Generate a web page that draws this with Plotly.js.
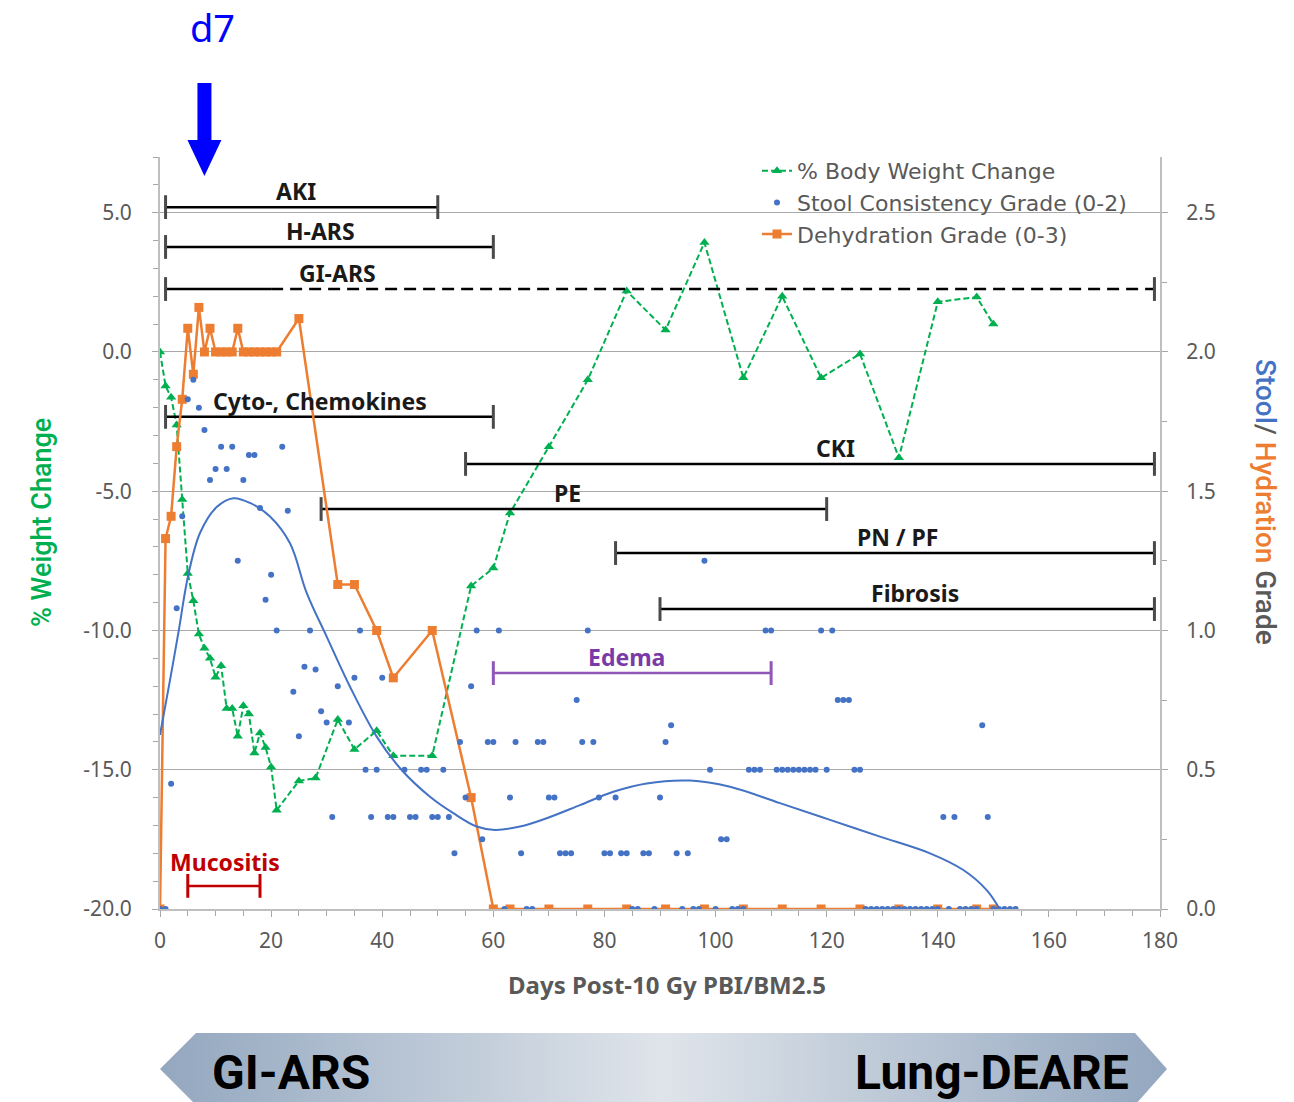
<!DOCTYPE html>
<html>
<head>
<meta charset="utf-8">
<script src="https://cdn.plot.ly/plotly-3.0.1.min.js"></script>
<style>
  html, body { margin: 0; padding: 0; background: #ffffff; }
  #chart { width: 1294px; height: 1102px; }
</style>
</head>
<body>
<div id="chart"></div>
<script>
// ---- % body weight change (left axis) ----
const weightDays = [0,1,2,3,4,5,6,7,8,9,10,11,12,13,14,15,16,17,18,19,20,21,25,28,32,35,39,42,49,56,60,63,70,77,84,91,98,105,112,119,126,133,140,147,150];
const weightChange = [0,-1.22,-1.63,-2.62,-5.3,-7.95,-8.93,-10.13,-10.64,-11.0,-11.68,-11.27,-12.8,-12.8,-13.8,-12.7,-13.0,-14.4,-13.68,-14.2,-14.9,-16.45,-15.4,-15.3,-13.2,-14.27,-13.6,-14.5,-14.5,-8.4,-7.76,-5.78,-3.4,-1.0,2.19,0.79,3.93,-0.93,2.0,-0.93,-0.07,-3.8,1.8,1.97,1.0];

// ---- stool consistency grade, group mean (right axis) ----
const stoolDays = [0,1,2,3,4,5,6,7,8,9,10,11,12,13,14,15,16,17,18,19,20,21,22,23,24,25,26,27,28,29,30,31,32,34,35,36,37,38,39,40,41,42,44,45,46,47,48,49,50,51,52,53,54,55,56,57,58,59,60,61,62,63,64,65,66,67,68,69,70,71,72,73,74,75,76,77,78,79,80,81,82,83,84,85,86,87,88,89,90,91,92,93,94,95,96,97,98,99,100,101,102,103,104,105,106,107,108,109,110,111,112,113,114,115,116,117,118,119,120,121,122,123,124,125,126,127,128,129,130,131,132,133,134,135,136,137,138,139,140,141,142,143,144,145,146,147,148,149,150,151,152,153,154];
const stoolGrade = [0,0,0.45,1.08,1.41,1.83,1.90,1.80,1.72,1.54,1.58,1.66,1.58,1.66,1.25,1.54,1.63,1.63,1.44,1.11,1.20,1.00,1.66,1.43,0.78,0.62,0.87,1.00,0.86,0.71,0.67,0.33,0.80,0.67,0.83,1.00,0.50,0.33,0.50,0.83,0.33,0.33,0.50,0.33,0.33,0.50,0.50,0.33,0.33,0.50,0.33,0.20,0.60,0.40,0.80,1.00,0.25,0.60,0.60,1.00,0,0.40,0.60,0.20,0,0,0.60,0.60,0.40,0.40,0.20,0.20,0.20,0.75,0.60,1.00,0.60,0.40,0.20,0.20,0.40,0.20,0.20,0,0,0.20,0.20,0,0.40,0.60,0.66,0.20,0,0.20,0,0,1.25,0.50,0,0.25,0.25,0,0,0,0.50,0.50,0.50,1.00,1.00,0.50,0.50,0.50,0.50,0.50,0.50,0.50,0.50,1.00,0.50,1.00,0.75,0.75,0.75,0.50,0.50,0,0,0,0,0,0,0,0,0,0,0,0,0,0,0.33,0,0.33,0,0,0,0,0.66,0.33,0,0,0,0,0];

// ---- polynomial trend of stool grade (right axis) ----
const stoolTrendDays = [0,1.8,3.3,5.1,7.2,10.2,13.2,16.2,19.8,23.4,26.4,30,34.2,39,43.5,48.6,52.8,57,60.3,64.8,69.6,75.6,81.6,87.6,95.4,102.6,111.6,120.6,129.6,138.6,144.6,148.8,150.9];
const stoolTrendGrade = [0.625,0.822,0.991,1.2,1.35,1.443,1.475,1.458,1.409,1.313,1.135,0.978,0.798,0.619,0.499,0.403,0.344,0.296,0.284,0.296,0.326,0.373,0.421,0.451,0.461,0.439,0.38,0.32,0.26,0.2,0.14,0.068,0.008];

// ---- dehydration grade, group mean (right axis) ----
const dehydDays = [0,1,2,3,4,5,6,7,8,9,10,11,12,13,14,15,16,17,18,19,20,21,25,32,35,39,42,49,56,60,63,70,77,84,91,98,105,112,119,126,133,140,147,150];
const dehydGrade = [0,1.33,1.41,1.66,1.83,2.085,1.92,2.16,2.0,2.085,2.0,2.0,2.0,2.0,2.085,2.0,2.0,2.0,2.0,2.0,2.0,2.0,2.12,1.165,1.165,1.0,0.83,1.0,0.4,0,0,0,0,0,0,0,0,0,0,0,0,0,0,0];

// ---- injury phase windows (days, right-axis level) ----
const phaseNames = ['AKI','H-ARS','GI-ARS','Cyto-, Chemokines','CKI','PE','PN / PF','Fibrosis','Edema','Mucositis'];
const phaseStart = [1,1,1,1,55,29,82,90,60,5];
const phaseEnd = [50,60,179,60,179,120,179,179,110,18];
const phaseConfirmedEnd = [50,60,20,60,179,120,179,179,110,18];
const phaseLevel = [2.52,2.377,2.226,1.767,1.598,1.436,1.278,1.077,0.847,0.083];
const phaseLabelDay = [24.5,28.8,31.9,28.8,121.5,73.3,132.7,135.9,83.9,11.7];

// ---- tick labels ----
const xTickVals = [0,20,40,60,80,100,120,140,160,180];
const xTickText = ['0','20','40','60','80','100','120','140','160','180'];
const leftTickVals = [-20,-15,-10,-5,0,5];
const leftTickText = ['-20.0','-15.0','-10.0','-5.0','0.0','5.0'];
const rightTickVals = [0,0.5,1,1.5,2,2.5];
const rightTickText = ['0.0','0.5','1.0','1.5','2.0','2.5'];

const markerDay = 8;

// ---------------- drawing ----------------
const W = 1294, H = 1102;
const px = v => v / W;
const py = v => 1 - v / H;

const green = '#00B050', blue = '#4472C4', orange = '#ED7D31', gray = '#595959';
const lineColorFor = { 'Edema': '#9056B8', 'Mucositis': '#C00000' };
const labelColorFor = { 'Edema': '#7A3BA8', 'Mucositis': '#C00000' };
const roboto = 'Roboto, "Noto Sans", sans-serif';

const traces = [];

// phase bars
phaseNames.forEach((name, i) => {
  const col = lineColorFor[name] || '#000000';
  const capCol = lineColorFor[name] || '#4a4a4a';
  const lvl = phaseLevel[i];
  traces.push({
    x: [phaseStart[i], phaseConfirmedEnd[i]], y: [lvl, lvl], yaxis: 'y2',
    mode: 'lines', line: { color: col, width: 2.5 }, showlegend: false, hoverinfo: 'skip'
  });
  if (phaseConfirmedEnd[i] < phaseEnd[i]) {
    traces.push({
      x: [phaseConfirmedEnd[i], phaseEnd[i]], y: [lvl, lvl], yaxis: 'y2',
      mode: 'lines', line: { color: col, width: 2.5, dash: '12px,7px' }, showlegend: false, hoverinfo: 'skip'
    });
  }
  traces.push({
    x: [phaseStart[i], phaseEnd[i]], y: [lvl, lvl], yaxis: 'y2',
    mode: 'markers', marker: { symbol: 'line-ns', size: 17, line: { color: capCol, width: 3 } },
    showlegend: false, hoverinfo: 'skip'
  });
});

traces.push({
  name: 'Dehydration Grade (0-3)', x: dehydDays, y: dehydGrade, yaxis: 'y2',
  mode: 'lines+markers', line: { color: orange, width: 2.5 },
  marker: { symbol: 'square', size: 9, color: orange }, legendrank: 3
});
traces.push({
  x: stoolTrendDays, y: stoolTrendGrade, yaxis: 'y2', mode: 'lines',
  line: { color: blue, width: 2, shape: 'spline', smoothing: 1 }, showlegend: false, hoverinfo: 'skip'
});
traces.push({
  name: 'Stool Consistency Grade (0-2)', x: stoolDays, y: stoolGrade, yaxis: 'y2',
  mode: 'markers', marker: { symbol: 'circle', size: 6, color: blue }, legendrank: 2
});
traces.push({
  name: '% Body Weight Change', x: weightDays, y: weightChange, yaxis: 'y',
  mode: 'lines+markers', line: { color: green, width: 2, dash: '6px,3px' },
  marker: { symbol: 'triangle-up', size: 9, color: green }, legendrank: 1
});

// phase banner along the bottom
const bannerX = [196, 1135, 1167, 1135, 196, 160, 196];
const bannerY = [69, 69, 33, -3, -3, 33, 69];
traces.push({
  x: bannerX, y: bannerY, xaxis: 'x3', yaxis: 'y3', mode: 'lines', fill: 'toself',
  line: { width: 0, color: 'rgba(0,0,0,0)' },
  fillgradient: { type: 'horizontal', colorscale: [[0, '#93a7bf'], [0.5, '#dfe4ea'], [1, '#93a7bf']] },
  showlegend: false, hoverinfo: 'skip'
});

const tickFont = { family: '"Noto Sans", sans-serif', size: 21, color: gray };
const axisLine = '#bfbfbf';

const annotations = phaseNames.map((name, i) => ({
  x: phaseLabelDay[i], y: phaseLevel[i], xref: 'x', yref: 'y2', xanchor: 'center', yanchor: 'middle',
  text: name, showarrow: false, yshift: name === 'Mucositis' ? 24 : 16,
  font: { family: '"Noto Sans", sans-serif', size: 23, color: labelColorFor[name] || '#1a1a1a', weight: 700 }
}));

annotations.push(
  { x: markerDay, y: py(27), xref: 'x', yref: 'paper', xanchor: 'center', yanchor: 'middle',
    text: 'd7', showarrow: false, xshift: 8, borderpad: 0,
    font: { family: '"Noto Sans", sans-serif', size: 38, color: '#0000FF' } },
  { x: px(667), y: py(985), xref: 'paper', yref: 'paper', xanchor: 'center', yanchor: 'middle',
    text: 'Days Post-10 Gy PBI/BM2.5', showarrow: false,
    font: { family: '"Noto Sans", sans-serif', size: 24, color: gray, weight: 700 } },
  { x: px(42), y: py(523), xref: 'paper', yref: 'paper', xanchor: 'center', yanchor: 'middle',
    text: '% Weight Change', showarrow: false, textangle: -90,
    font: { family: roboto, size: 27, color: green, weight: 500 } },
  { x: px(1266), y: py(502), xref: 'paper', yref: 'paper', xanchor: 'center', yanchor: 'middle',
    showarrow: false, textangle: 90,
    text: '<span style="color:' + blue + '">Stool</span><span style="color:' + gray + '">/ </span>' +
          '<span style="color:' + orange + '">Hydration</span><span style="color:' + gray + '"> Grade</span>',
    font: { family: roboto, size: 28, color: gray, weight: 500 } },
  { x: px(210), y: py(1072), xref: 'paper', yref: 'paper', xanchor: 'left', yanchor: 'middle',
    text: 'GI-ARS', showarrow: false,
    font: { family: roboto, size: 48, color: '#000000', weight: 700 } },
  { x: px(1131), y: py(1072), xref: 'paper', yref: 'paper', xanchor: 'right', yanchor: 'middle',
    text: 'Lung-DEARE', showarrow: false,
    font: { family: roboto, size: 48, color: '#000000', weight: 700 } }
);

const shapes = [
  { type: 'rect', xref: 'x', xsizemode: 'pixel', xanchor: markerDay, x0: -7, x1: 7,
    yref: 'paper', y0: py(142), y1: py(83), fillcolor: '#0000FF', line: { width: 0 } },
  { type: 'path', xref: 'x', xsizemode: 'pixel', xanchor: markerDay, yref: 'paper',
    path: 'M-17,' + py(140) + ' L17,' + py(140) + ' L0,' + py(176) + ' Z',
    fillcolor: '#0000FF', line: { width: 0 } }
];

const layout = {
  width: W, height: H,
  margin: { l: 0, r: 0, t: 0, b: 0, pad: 0 },
  paper_bgcolor: '#ffffff', plot_bgcolor: 'rgba(0,0,0,0)',
  showlegend: true,
  legend: {
    x: px(757), y: py(150), xanchor: 'left', yanchor: 'top',
    bgcolor: 'rgba(0,0,0,0)', borderwidth: 0, tracegroupgap: 0, itemwidth: 30,
    font: { family: '"DejaVu Sans", sans-serif', size: 22, color: gray }
  },
  xaxis: {
    domain: [px(160), px(1160)], range: [0, 180], anchor: 'y',
    tickmode: 'array', tickvals: xTickVals, ticktext: xTickText,
    ticks: 'outside', ticklen: 6, tickcolor: '#a6a6a6', tickwidth: 1,
    minor: { tickmode: 'linear', tick0: 0, dtick: 5, ticks: 'outside', ticklen: 5, tickcolor: '#a6a6a6' },
    showline: true, linecolor: axisLine, linewidth: 2, showgrid: false, zeroline: false,
    tickfont: tickFont, ticklabelstandoff: 6, fixedrange: true
  },
  yaxis: {
    domain: [py(909), py(157)], range: [-20, 7], anchor: 'x',
    tickmode: 'array', tickvals: leftTickVals, ticktext: leftTickText,
    ticks: 'outside', ticklen: 6, tickcolor: '#a6a6a6',
    minor: { tickmode: 'linear', tick0: 0, dtick: 1, ticks: 'outside', ticklen: 5, tickcolor: '#a6a6a6' },
    showline: true, linecolor: axisLine, linewidth: 2,
    showgrid: true, gridcolor: '#a9a9a9', gridwidth: 1, zeroline: false,
    tickfont: tickFont, ticklabelstandoff: 16, fixedrange: true
  },
  yaxis2: {
    overlaying: 'y', side: 'right', anchor: 'x', range: [0, 2.7],
    tickmode: 'array', tickvals: rightTickVals, ticktext: rightTickText,
    ticks: 'outside', ticklen: 6, tickcolor: '#a6a6a6',
    minor: { tickmode: 'linear', tick0: 0, dtick: 0.25, ticks: 'outside', ticklen: 5, tickcolor: '#a6a6a6' },
    showline: true, linecolor: axisLine, linewidth: 2, showgrid: false, zeroline: false,
    tickfont: tickFont, ticklabelstandoff: 14, fixedrange: true
  },
  xaxis3: { domain: [0, 1], range: [0, W], anchor: 'y3', visible: false, fixedrange: true },
  yaxis3: { domain: [0, 82 / H], range: [0, 82], anchor: 'x3', visible: false, fixedrange: true },
  annotations: annotations,
  shapes: shapes
};

Plotly.newPlot('chart', traces, layout, { displayModeBar: false, staticPlot: true });
</script>
</body>
</html>
